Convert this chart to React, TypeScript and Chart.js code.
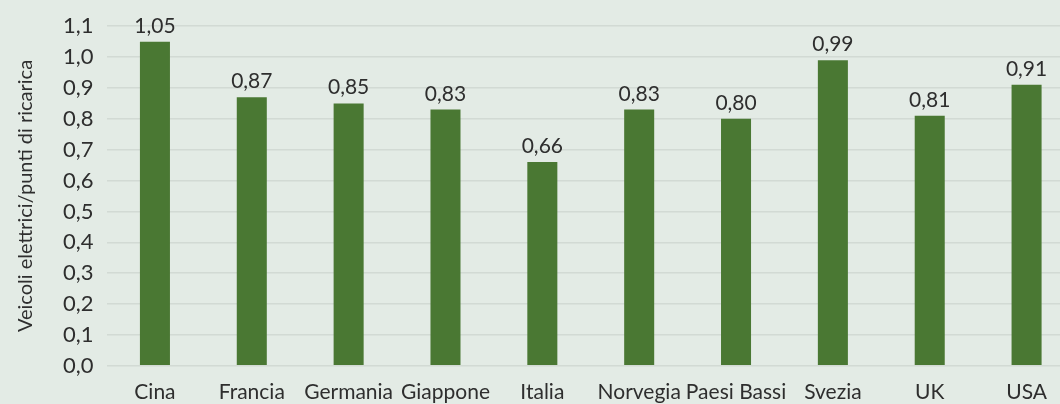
import React, { useEffect, useRef } from "react";
import { Chart, registerables } from "chart.js";

Chart.register(...registerables);

const categories = ["Cina", "Francia", "Germania", "Giappone", "Italia", "Norvegia", "Paesi Bassi", "Svezia", "UK", "USA"];
const values = [1.05, 0.87, 0.85, 0.83, 0.66, 0.83, 0.8, 0.99, 0.81, 0.91];
const yTitle = "Veicoli elettrici/punti di ricarica";

const BG = "#e3ebe5";
const BAR = "#4a7833";
const TEXT = "#2e2e2e";
const FONT = "Lato, 'Open Sans', sans-serif";

const fmt = (v: number, d: number) => v.toFixed(d).replace(".", ",");

const labelPlugin = {
  id: "valueLabels",
  afterDatasetsDraw(chart: any) {
    const ctx = chart.ctx;
    const meta = chart.getDatasetMeta(0);
    ctx.save();
    ctx.fillStyle = TEXT;
    ctx.font = `21px ${FONT}`;
    ctx.textAlign = "center";
    ctx.textBaseline = "alphabetic";
    meta.data.forEach((bar: any, i: number) => {
      ctx.fillText(fmt(values[i], 2), bar.x, bar.y - 9);
    });
    ctx.restore();
  },
};

export default function App() {
  const ref = useRef<HTMLCanvasElement>(null);
  useEffect(() => {
    document.body.style.margin = "0";
    document.body.style.background = BG;
    const chart = new Chart(ref.current!, {
      type: "bar",
      data: {
        labels: categories,
        datasets: [
          {
            data: values,
            backgroundColor: BAR,
            borderWidth: 0,
            categoryPercentage: 1,
            barPercentage: 0.31,
          },
        ],
      },
      options: {
        animation: false,
        responsive: false,
        maintainAspectRatio: false,
        layout: { padding: { top: 20, right: 0, bottom: 0, left: 14 } },
        plugins: { legend: { display: false }, tooltip: { enabled: false } },
        scales: {
          x: {
            grid: { display: false, drawTicks: false },
            border: { display: false },
            ticks: { color: TEXT, font: { family: FONT, size: 21 }, padding: 14, maxRotation: 0, autoSkip: false },
          },
          y: {
            min: 0,
            max: 1.1,
            grid: { color: "#d2dad4", lineWidth: 1.5, drawTicks: false },
            border: { display: false },
            ticks: {
              stepSize: 0.1,
              color: TEXT,
              font: { family: FONT, size: 22 },
              padding: 13,
              callback: (v: any) => fmt(Number(v), 1),
            },
            title: { display: true, text: yTitle, color: TEXT, font: { family: FONT, size: 20 }, padding: { top: 0, bottom: 12 } },
          },
        },
      },
      plugins: [labelPlugin],
    });
    return () => chart.destroy();
  }, []);
  return (
    <div style={{ width: 1060, height: 404, overflow: "hidden", background: BG }}>
      <canvas ref={ref} width={1075} height={419} style={{ display: "block" }} />
    </div>
  );
}
